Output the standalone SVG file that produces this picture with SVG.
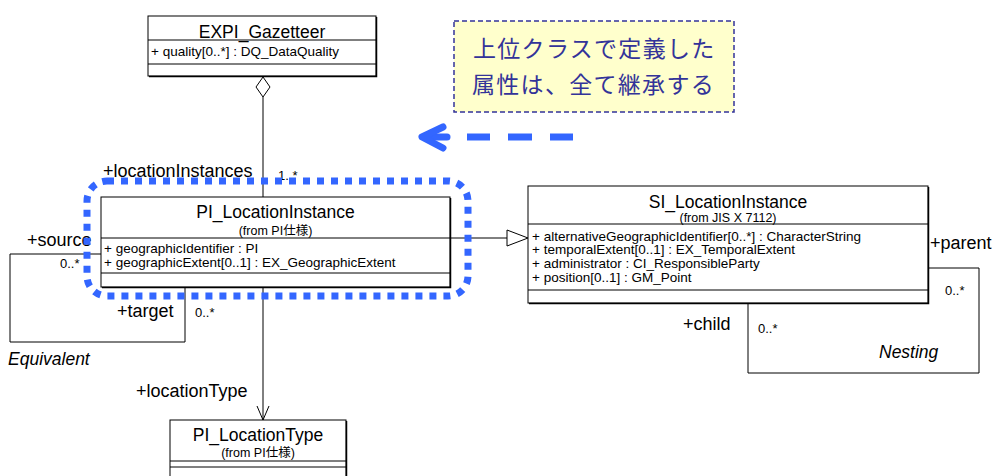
<svg xmlns="http://www.w3.org/2000/svg" width="1001" height="476" viewBox="0 0 1001 476">
  <style>
    text { font-family: "Liberation Sans", Arial, "Noto Sans CJK JP", sans-serif; fill: #000; }
    .box { fill: #fff; stroke: #000; stroke-width: 1; }
    .shadow { fill: none; stroke: #000; stroke-width: 1.5; }
    .div { stroke: #000; stroke-width: 1; }
    .title { font-size: 17.5px; text-anchor: middle; }
    .from { font-size: 12.5px; text-anchor: middle; }
    .attr { font-size: 13.5px; }
    .role { font-size: 18px; }
    .mult { font-size: 13px; }
    .assoc { font-size: 17.5px; font-style: italic; }
    .line { fill: none; stroke: #000; stroke-width: 1; }
    .note { fill: #ffffcc; stroke: #333399; stroke-width: 1.5; stroke-dasharray: 5 3; }
    .notetext { font-family: "Noto Sans CJK JP", "Liberation Sans", sans-serif; font-size: 23px; letter-spacing: 1.3px; fill: #333399; }
    .hl { fill: none; stroke: #3366ff; stroke-width: 7; stroke-dasharray: 7 7; }
    .blue { fill: none; stroke: #3366ff; stroke-width: 7; }
  </style>

  <!-- connectors -->
  <g id="connectors">
    <!-- aggregation: gazetteer to location instances -->
    <line class="line" x1="263" y1="97" x2="263" y2="197"/>
    <polygon points="263,77 270,87 263,97 256,87" fill="#fff" stroke="#000" stroke-width="1"/>
    <!-- generalization to SI_LocationInstance -->
    <line class="line" x1="450" y1="238" x2="507" y2="238"/>
    <polygon points="507,230 528,238 507,246" fill="#fff" stroke="#000" stroke-width="1"/>
    <!-- Equivalent self association -->
    <polyline class="line" points="101,254 10,254 10,342 185,342 185,287"/>
    <!-- Nesting self association -->
    <polyline class="line" points="928,268 979,268 979,373 748,373 748,303"/>
    <!-- navigable association to location type -->
    <line class="line" x1="263" y1="287" x2="263" y2="420"/>
    <polyline class="line" points="257,406 263,420 269,406"/>
  </g>

  <!-- connector labels -->
  <g id="labels">
    <text class="role" x="103" y="177">+locationInstances</text>
    <text class="mult" x="278" y="180">1..*</text>
    <text class="role" x="27" y="246">+source</text>
    <text class="mult" x="60" y="268">0..*</text>
    <text class="role" x="117" y="317">+target</text>
    <text class="mult" x="195" y="317">0..*</text>
    <text class="assoc" x="8" y="365">Equivalent</text>
    <text class="role" x="136" y="397">+locationType</text>
    <text class="role" x="930" y="249">+parent</text>
    <text class="mult" x="945" y="295">0..*</text>
    <text class="role" x="683" y="330">+child</text>
    <text class="mult" x="758" y="333">0..*</text>
    <text class="assoc" x="879" y="358">Nesting</text>
  </g>

  <!-- EXPI_Gazetteer -->
  <g id="EXPI_Gazetteer">
    <rect class="box" x="148" y="16" width="228" height="60"/>
    <path class="shadow" d="M376.5,17 V76.5 H149"/>
    <line class="div" x1="148" y1="40" x2="376" y2="40"/>
    <line class="div" x1="148" y1="64" x2="376" y2="64"/>
    <text class="title" x="262" y="38">EXPI_Gazetteer</text>
    <text class="attr" x="151" y="56">+ quality[0..*] : DQ_DataQuality</text>
  </g>

  <!-- PI_LocationInstance -->
  <g id="PI_LocationInstance">
    <rect class="box" x="101" y="197" width="349" height="90"/>
    <path class="shadow" d="M450.5,198 V287.5 H102"/>
    <line class="div" x1="101" y1="238" x2="450" y2="238"/>
    <line class="div" x1="101" y1="273" x2="450" y2="273"/>
    <text class="title" x="275.5" y="218">PI_LocationInstance</text>
    <text class="from" x="275.5" y="234.5">(from PI仕様)</text>
    <text class="attr" x="104" y="253">+ geographicIdentifier : PI</text>
    <text class="attr" x="104" y="267">+ geographicExtent[0..1] : EX_GeographicExtent</text>
  </g>

  <!-- SI_LocationInstance -->
  <g id="SI_LocationInstance">
    <rect class="box" x="528" y="186" width="400" height="117"/>
    <path class="shadow" d="M928.5,187 V303.5 H529"/>
    <line class="div" x1="528" y1="224" x2="928" y2="224"/>
    <line class="div" x1="528" y1="290" x2="928" y2="290"/>
    <text class="title" x="728" y="208">SI_LocationInstance</text>
    <text class="from" x="728" y="221.5">(from JIS X 7112)</text>
    <text class="attr" x="532" y="240.5">+ alternativeGeographicIdentifier[0..*] : CharacterString</text>
    <text class="attr" x="532" y="254">+ temporalExtent[0..1] : EX_TemporalExtent</text>
    <text class="attr" x="532" y="268">+ administrator : CI_ResponsibleParty</text>
    <text class="attr" x="532" y="282">+ position[0..1] : GM_Point</text>
  </g>

  <!-- PI_LocationType -->
  <g id="PI_LocationType">
    <rect class="box" x="170" y="420" width="176" height="62"/>
    <path class="shadow" d="M346.5,421 V482"/>
    <line class="div" x1="170" y1="461" x2="346" y2="461"/>
    <line class="div" x1="170" y1="467" x2="346" y2="467"/>
    <text class="title" x="258" y="441">PI_LocationType</text>
    <text class="from" x="258" y="457">(from PI仕様)</text>
  </g>

  <!-- explanatory note -->
  <g id="note">
    <rect class="note" x="454" y="21" width="280" height="91"/>
    <text class="notetext" x="473" y="57">上位クラスで定義した</text>
    <text class="notetext" x="472" y="93">属性は、全て継承する</text>
  </g>

  <!-- highlight around the inheriting class -->
  <g id="highlight">
    <rect class="hl" x="87" y="181" width="381" height="115" rx="20" ry="20"/>
  </g>

  <!-- inheritance hint arrow -->
  <g id="hint-arrow">
    <line class="blue" x1="467" y1="137" x2="490" y2="137"/>
    <line class="blue" x1="508" y1="137" x2="532" y2="137"/>
    <line class="blue" x1="550" y1="137" x2="573" y2="137"/>
    <line class="blue" x1="424" y1="137" x2="447" y2="137" stroke-linecap="round"/>
    <polyline class="blue" points="443,127 422,137 443,148" stroke-width="6.5" stroke-linecap="round" stroke-linejoin="round"/>
  </g>
</svg>
